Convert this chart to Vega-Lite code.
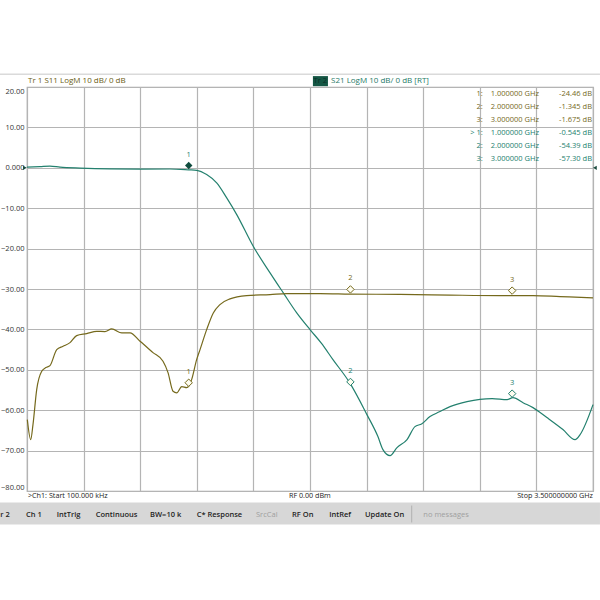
{
  "$schema": "https://vega.github.io/schema/vega-lite/v6.json",
  "width": 566,
  "height": 404,
  "autosize": {"type": "none"},
  "padding": {"left": 27, "top": 87, "right": 7, "bottom": 109},
  "background": "white",
  "config": {
    "font": "Open Sans",
    "view": {"stroke": "#a8a8a8", "strokeWidth": 1.2},
    "text": {"font": "Open Sans", "fontSize": 7.5}
  },
  "datasets": {
    "traces": [
      {"trace": "S21", "f": 0.0, "db": 0.17},
      {"trace": "S21", "f": 0.08, "db": 0.3},
      {"trace": "S21", "f": 0.142, "db": 0.42},
      {"trace": "S21", "f": 0.204, "db": 0.17},
      {"trace": "S21", "f": 0.328, "db": -0.07},
      {"trace": "S21", "f": 0.513, "db": -0.27},
      {"trace": "S21", "f": 0.699, "db": -0.32},
      {"trace": "S21", "f": 0.884, "db": -0.3},
      {"trace": "S21", "f": 1.0, "db": -0.5},
      {"trace": "S21", "f": 1.049, "db": -0.62},
      {"trace": "S21", "f": 1.111, "db": -1.68},
      {"trace": "S21", "f": 1.173, "db": -3.74},
      {"trace": "S21", "f": 1.235, "db": -7.45},
      {"trace": "S21", "f": 1.297, "db": -11.58},
      {"trace": "S21", "f": 1.399, "db": -19.43},
      {"trace": "S21", "f": 1.503, "db": -26.01},
      {"trace": "S21", "f": 1.585, "db": -30.97},
      {"trace": "S21", "f": 1.668, "db": -35.92},
      {"trace": "S21", "f": 1.75, "db": -40.05},
      {"trace": "S21", "f": 1.82, "db": -43.4},
      {"trace": "S21", "f": 1.892, "db": -47.48},
      {"trace": "S21", "f": 1.997, "db": -53.3},
      {"trace": "S21", "f": 2.102, "db": -61.09},
      {"trace": "S21", "f": 2.17, "db": -66.53},
      {"trace": "S21", "f": 2.201, "db": -69.75},
      {"trace": "S21", "f": 2.245, "db": -71.24},
      {"trace": "S21", "f": 2.288, "db": -69.26},
      {"trace": "S21", "f": 2.35, "db": -67.28},
      {"trace": "S21", "f": 2.399, "db": -64.06},
      {"trace": "S21", "f": 2.44, "db": -63.4},
      {"trace": "S21", "f": 2.492, "db": -61.58},
      {"trace": "S21", "f": 2.55, "db": -60.4},
      {"trace": "S21", "f": 2.616, "db": -59.11},
      {"trace": "S21", "f": 2.721, "db": -57.87},
      {"trace": "S21", "f": 2.876, "db": -57.13},
      {"trace": "S21", "f": 2.969, "db": -57.38},
      {"trace": "S21", "f": 3.005, "db": -56.88},
      {"trace": "S21", "f": 3.07, "db": -58.2},
      {"trace": "S21", "f": 3.129, "db": -59.36},
      {"trace": "S21", "f": 3.215, "db": -61.83},
      {"trace": "S21", "f": 3.314, "db": -64.8},
      {"trace": "S21", "f": 3.389, "db": -67.28},
      {"trace": "S21", "f": 3.42, "db": -66.04},
      {"trace": "S21", "f": 3.5, "db": -58.61},
      {"trace": "S11", "f": 0.002, "db": -62.33},
      {"trace": "S11", "f": 0.023, "db": -67.28},
      {"trace": "S11", "f": 0.037, "db": -63.57},
      {"trace": "S11", "f": 0.06, "db": -54.9},
      {"trace": "S11", "f": 0.091, "db": -50.37},
      {"trace": "S11", "f": 0.117, "db": -49.46},
      {"trace": "S11", "f": 0.142, "db": -48.96},
      {"trace": "S11", "f": 0.184, "db": -45.0},
      {"trace": "S11", "f": 0.223, "db": -44.18},
      {"trace": "S11", "f": 0.266, "db": -43.27},
      {"trace": "S11", "f": 0.307, "db": -41.53},
      {"trace": "S11", "f": 0.369, "db": -41.04},
      {"trace": "S11", "f": 0.431, "db": -40.47},
      {"trace": "S11", "f": 0.482, "db": -40.55},
      {"trace": "S11", "f": 0.524, "db": -39.88},
      {"trace": "S11", "f": 0.586, "db": -40.87},
      {"trace": "S11", "f": 0.637, "db": -40.87},
      {"trace": "S11", "f": 0.699, "db": -42.95},
      {"trace": "S11", "f": 0.779, "db": -45.74},
      {"trace": "S11", "f": 0.841, "db": -47.9},
      {"trace": "S11", "f": 0.872, "db": -50.69},
      {"trace": "S11", "f": 0.903, "db": -55.32},
      {"trace": "S11", "f": 0.926, "db": -55.72},
      {"trace": "S11", "f": 0.957, "db": -54.16},
      {"trace": "S11", "f": 0.988, "db": -54.41},
      {"trace": "S11", "f": 1.002, "db": -53.9},
      {"trace": "S11", "f": 1.018, "db": -52.43},
      {"trace": "S11", "f": 1.049, "db": -47.48},
      {"trace": "S11", "f": 1.07, "db": -45.0},
      {"trace": "S11", "f": 1.111, "db": -40.05},
      {"trace": "S11", "f": 1.152, "db": -35.92},
      {"trace": "S11", "f": 1.193, "db": -33.86},
      {"trace": "S11", "f": 1.255, "db": -32.45},
      {"trace": "S11", "f": 1.358, "db": -31.63},
      {"trace": "S11", "f": 1.503, "db": -31.39},
      {"trace": "S11", "f": 1.606, "db": -31.14},
      {"trace": "S11", "f": 1.812, "db": -31.14},
      {"trace": "S11", "f": 1.997, "db": -31.26},
      {"trace": "S11", "f": 2.307, "db": -31.34},
      {"trace": "S11", "f": 2.616, "db": -31.51},
      {"trace": "S11", "f": 2.925, "db": -31.63},
      {"trace": "S11", "f": 3.129, "db": -31.63},
      {"trace": "S11", "f": 3.296, "db": -31.88},
      {"trace": "S11", "f": 3.5, "db": -32.2}
    ],
    "markers": [
      {"trace": "S11", "n": "1", "f": 1.0, "db": -53.2, "active": false},
      {"trace": "S11", "n": "2", "f": 2.0, "db": -30.1, "active": false},
      {"trace": "S11", "n": "3", "f": 3.0, "db": -30.4, "active": false},
      {"trace": "S21", "n": "1", "f": 1.0, "db": 0.55, "active": true},
      {"trace": "S21", "n": "2", "f": 2.0, "db": -53.0, "active": false},
      {"trace": "S21", "n": "3", "f": 3.0, "db": -55.9, "active": false}
    ],
    "mtab": [
      {"trace": "S11", "idx": "1:", "freq": "1.000000 GHz", "val": "-24.46 dB", "fi": 2.818, "ff": 2.867, "fv": 3.494, "db": 18.29},
      {"trace": "S11", "idx": "2:", "freq": "2.000000 GHz", "val": "-1.345 dB", "fi": 2.818, "ff": 2.867, "fv": 3.494, "db": 14.98},
      {"trace": "S11", "idx": "3:", "freq": "3.000000 GHz", "val": "-1.675 dB", "fi": 2.818, "ff": 2.867, "fv": 3.494, "db": 11.76},
      {"trace": "S21", "idx": "> 1:", "freq": "1.000000 GHz", "val": "-0.545 dB", "fi": 2.818, "ff": 2.867, "fv": 3.494, "db": 8.64},
      {"trace": "S21", "idx": "2:", "freq": "2.000000 GHz", "val": "-54.39 dB", "fi": 2.818, "ff": 2.867, "fv": 3.494, "db": 5.32},
      {"trace": "S21", "idx": "3:", "freq": "3.000000 GHz", "val": "-57.30 dB", "fi": 2.818, "ff": 2.867, "fv": 3.494, "db": 2.2}
    ],
    "bars": [
      {"f": -0.167, "f2": 3.543, "db": -82.87, "db2": -88.32, "kind": "status"},
      {"f": -0.167, "f2": 3.543, "db": 23.35, "db2": 22.95, "kind": "top"}
    ],
    "status": [
      {"label": "r 2", "f": -0.165, "db": -85.84},
      {"label": "Ch 1", "f": -0.006, "db": -85.84},
      {"label": "IntTrig", "f": 0.184, "db": -85.84},
      {"label": "Continuous", "f": 0.425, "db": -85.84},
      {"label": "BW=10 k", "f": 0.761, "db": -85.84},
      {"label": "C* Response", "f": 1.049, "db": -85.84},
      {"label": "RF On", "f": 1.639, "db": -85.84},
      {"label": "IntRef", "f": 1.869, "db": -85.84},
      {"label": "Update On", "f": 2.09, "db": -85.84}
    ],
    "statusGray": [
      {"label": "SrcCal", "f": 1.416, "db": -85.84},
      {"label": "no messages", "f": 2.451, "db": -85.84}
    ],
    "bottomLeft": [
      {"label": ">Ch1: Start 100.000 kHz", "f": 0.006, "db": -81.14},
      {"label": "RF 0.00 dBm", "f": 1.62, "db": -81.14}
    ],
    "bottomRight": [
      {"label": "Stop 3.500000000 GHz", "f": 3.5, "db": -81.14}
    ]
  },
  "encoding": {
    "x": {
      "field": "f", "type": "quantitative",
      "scale": {"domain": [0, 3.5], "nice": false, "zero": false},
      "axis": {"values": [0, 0.35, 0.7, 1.05, 1.4, 1.75, 2.1, 2.45, 2.8, 3.15, 3.5], "labels": false, "ticks": false, "domain": false, "title": null, "grid": true, "gridColor": "#b4b4b4", "gridWidth": 1.2, "gridOpacity": 1}
    },
    "y": {
      "field": "db", "type": "quantitative",
      "scale": {"domain": [-80, 20], "nice": false, "zero": false},
      "axis": {"values": [-80, -70, -60, -50, -40, -30, -20, -10, 0, 10, 20], "labelExpr": "datum.value == 0 ? '0.000' : format(datum.value, '.2f')", "labelFlush": true, "labelFontSize": 7.5, "labelColor": "#333333", "labelFont": "Open Sans", "labelPadding": 3, "ticks": false, "domain": false, "title": null, "grid": true, "gridColor": "#b4b4b4", "gridWidth": 1.2, "gridOpacity": 1}
    },
    "color": {"field": "trace", "type": "nominal", "scale": {"domain": ["S11", "S21"], "range": ["#75691c", "#23806e"]}, "legend": null}
  },
  "layer": [
    {
      "data": {"name": "bars"},
      "transform": [{"filter": "datum.kind == 'status'"}],
      "mark": {"type": "rect", "clip": false},
      "encoding": {"x2": {"field": "f2"}, "y2": {"field": "db2"}, "color": {"value": "#d7d7d7"}}
    },
    {
      "data": {"name": "bars"},
      "transform": [{"filter": "datum.kind == 'top'"}],
      "mark": {"type": "rect", "clip": false},
      "encoding": {"x2": {"field": "f2"}, "y2": {"field": "db2"}, "color": {"value": "#dadada"}}
    },
    {
      "data": {"name": "traces"},
      "mark": {"type": "line", "strokeWidth": 1.2, "interpolate": "monotone"}
    },
    {
      "data": {"name": "markers"},
      "transform": [{"filter": "!datum.active"}],
      "mark": {"type": "point", "shape": "diamond", "size": 55, "filled": false, "fill": "#fffdf0", "fillOpacity": 1, "strokeWidth": 1}
    },
    {
      "data": {"name": "markers"},
      "transform": [{"filter": "datum.active"}],
      "mark": {"type": "point", "shape": "diamond", "size": 55, "filled": true, "opacity": 1},
      "encoding": {"color": {"value": "#0f4c3e"}}
    },
    {
      "data": {"name": "markers"},
      "mark": {"type": "text", "dy": -11, "fontSize": 7.5},
      "encoding": {"text": {"field": "n"}}
    },
    {
      "data": {"values": [{"f": -0.013, "db": 0}]},
      "mark": {"type": "point", "shape": "triangle-right", "size": 18, "filled": true, "opacity": 1, "clip": false},
      "encoding": {"color": {"value": "#1a4a3e"}}
    },
    {
      "data": {"values": [{"f": 3.512, "db": 0}]},
      "mark": {"type": "point", "shape": "triangle-left", "size": 18, "filled": true, "opacity": 1, "clip": false},
      "encoding": {"color": {"value": "#1a4a3e"}}
    },
    {
      "data": {"values": [{"label": "Tr 1   S11 LogM  10 dB/ 0 dB", "f": 0.006, "db": 21.4}]},
      "mark": {"type": "text", "align": "left", "baseline": "middle", "fontSize": 8},
      "encoding": {"text": {"field": "label"}, "color": {"value": "#6b5e14"}}
    },
    {
      "data": {"values": [{"f": 1.768, "f2": 1.861, "db": 22.7, "db2": 20.2}]},
      "mark": {"type": "rect", "clip": false},
      "encoding": {"x2": {"field": "f2"}, "y2": {"field": "db2"}, "color": {"value": "#145644"}}
    },
    {
      "data": {"values": [{"label": "Tr 2", "f": 1.772, "db": 21.4}]},
      "mark": {"type": "text", "align": "left", "baseline": "middle", "fontSize": 7.5},
      "encoding": {"text": {"field": "label"}, "color": {"value": "#0b2e26"}}
    },
    {
      "data": {"values": [{"label": "S21  LogM  10 dB/ 0 dB [RT]", "f": 1.88, "db": 21.4}]},
      "mark": {"type": "text", "align": "left", "baseline": "middle", "fontSize": 8},
      "encoding": {"text": {"field": "label"}, "color": {"value": "#1f7a68"}}
    },
    {
      "data": {"name": "mtab"},
      "mark": {"type": "text", "align": "right", "baseline": "middle", "fontSize": 7.5},
      "encoding": {"x": {"field": "fi", "type": "quantitative"}, "text": {"field": "idx"}}
    },
    {
      "data": {"name": "mtab"},
      "mark": {"type": "text", "align": "left", "baseline": "middle", "fontSize": 7.5},
      "encoding": {"x": {"field": "ff", "type": "quantitative"}, "text": {"field": "freq"}}
    },
    {
      "data": {"name": "mtab"},
      "mark": {"type": "text", "align": "right", "baseline": "middle", "fontSize": 7.5},
      "encoding": {"x": {"field": "fv", "type": "quantitative"}, "text": {"field": "val"}}
    },
    {
      "data": {"name": "bottomLeft"},
      "mark": {"type": "text", "align": "left", "baseline": "middle", "fontSize": 7.2},
      "encoding": {"text": {"field": "label"}, "color": {"value": "#222222"}}
    },
    {
      "data": {"name": "bottomRight"},
      "mark": {"type": "text", "align": "right", "baseline": "middle", "fontSize": 7.2},
      "encoding": {"text": {"field": "label"}, "color": {"value": "#222222"}}
    },
    {
      "data": {"name": "status"},
      "mark": {"type": "text", "align": "left", "baseline": "middle", "fontSize": 7.5, "fontWeight": 600},
      "encoding": {"text": {"field": "label"}, "color": {"value": "#1e1e1e"}}
    },
    {
      "data": {"name": "statusGray"},
      "mark": {"type": "text", "align": "left", "baseline": "middle", "fontSize": 7.5},
      "encoding": {"text": {"field": "label"}, "color": {"value": "#a0a0a0"}}
    },
    {
      "data": {"values": [{"f": 2.379, "db": -83.6, "db2": -87.8}]},
      "mark": {"type": "rule", "strokeWidth": 1, "clip": false},
      "encoding": {"y2": {"field": "db2"}, "color": {"value": "#b0b0b0"}}
    }
  ]
}
